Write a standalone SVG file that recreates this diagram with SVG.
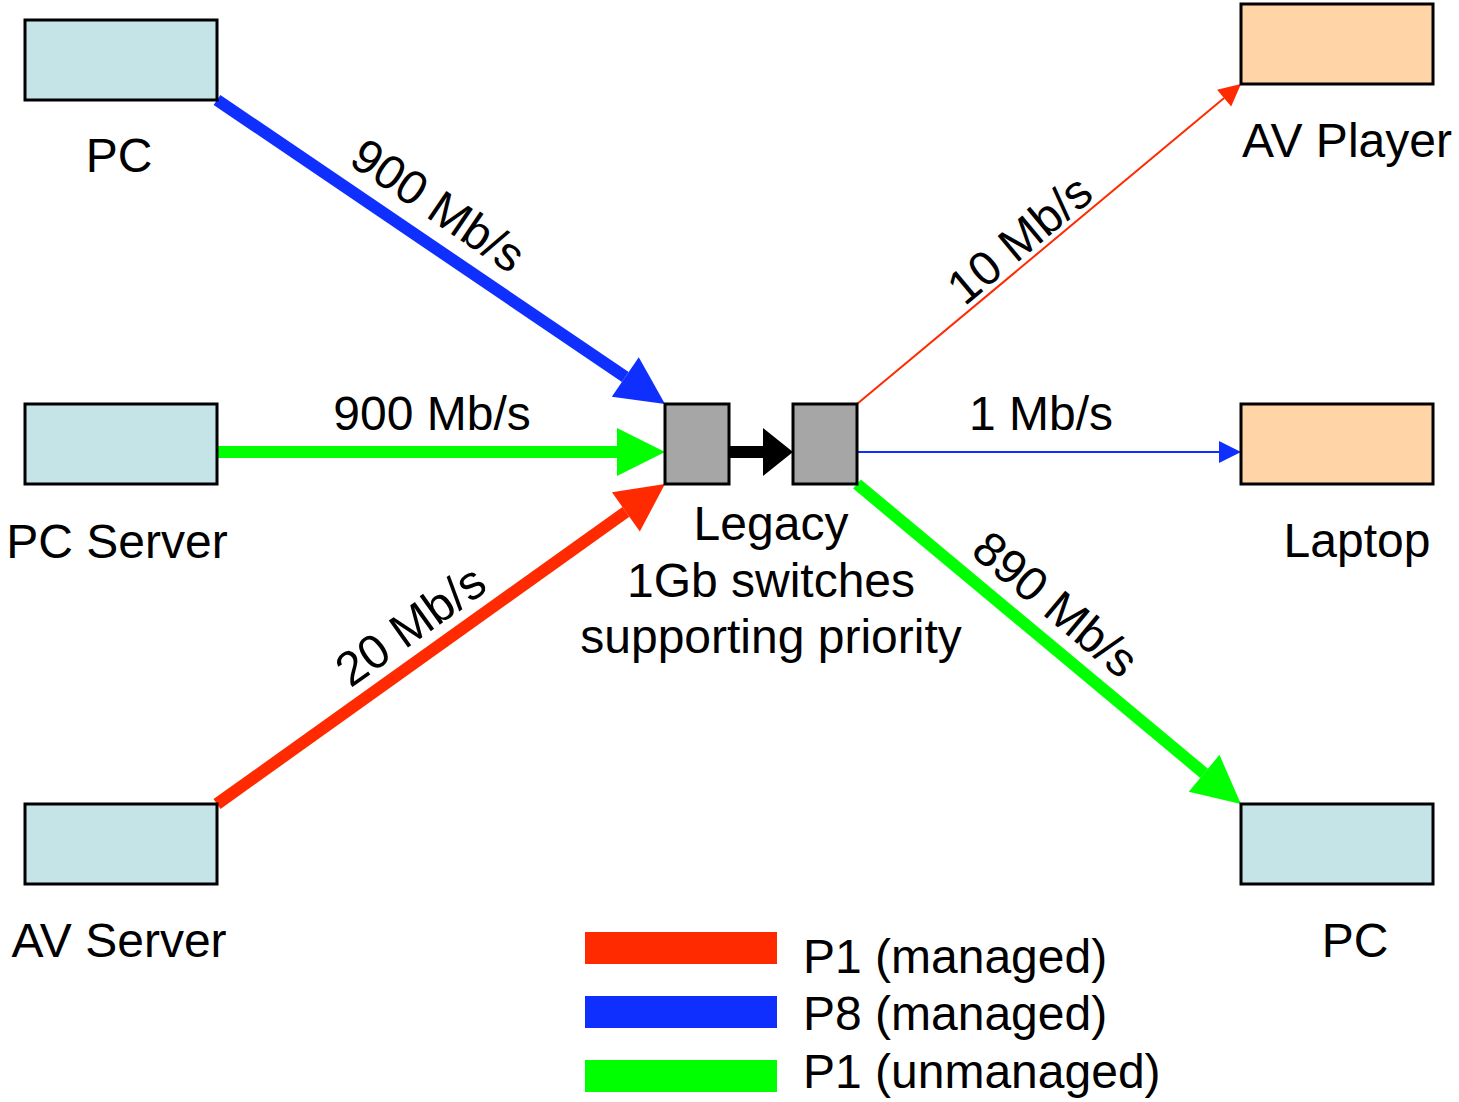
<svg xmlns="http://www.w3.org/2000/svg" width="1459" height="1102" viewBox="0 0 1459 1102">
<style>
text{font-family:"Liberation Sans",Arial,sans-serif;font-size:48px;fill:#000}
.c{text-anchor:middle}
.pc{fill:#C5E4E8;stroke:#000;stroke-width:3}
.av{fill:#FFD5A8;stroke:#000;stroke-width:3}
.sw{fill:#A6A6A6;stroke:#000;stroke-width:3}
.thick{stroke-width:12;fill:none}
.thin{stroke-width:2;fill:none}
</style>
<defs>
<marker id="bigR" markerUnits="userSpaceOnUse" markerWidth="50" markerHeight="50" refX="0" refY="24" orient="auto" viewBox="0 0 50 50" overflow="visible"><path d="M0,0 L48,24 L0,48 z" fill="#FF2A00"/></marker>
<marker id="bigB" markerUnits="userSpaceOnUse" markerWidth="50" markerHeight="50" refX="0" refY="24" orient="auto" viewBox="0 0 50 50" overflow="visible"><path d="M0,0 L48,24 L0,48 z" fill="#0F2FFF"/></marker>
<marker id="bigG" markerUnits="userSpaceOnUse" markerWidth="50" markerHeight="50" refX="0" refY="24" orient="auto" viewBox="0 0 50 50" overflow="visible"><path d="M0,0 L48,24 L0,48 z" fill="#00FF00"/></marker>
<marker id="bigK" markerUnits="userSpaceOnUse" markerWidth="50" markerHeight="50" refX="0" refY="24" orient="auto" viewBox="0 0 50 50" overflow="visible"><path d="M0,0 L30,24 L0,48 z" fill="#000"/></marker>
<marker id="smR" markerUnits="userSpaceOnUse" markerWidth="24" markerHeight="24" refX="0" refY="11" orient="auto" viewBox="0 0 24 24" overflow="visible"><path d="M0,0 L22,11 L0,22 z" fill="#FF2A00"/></marker>
<marker id="smB" markerUnits="userSpaceOnUse" markerWidth="24" markerHeight="24" refX="0" refY="11" orient="auto" viewBox="0 0 24 24" overflow="visible"><path d="M0,0 L22,11 L0,22 z" fill="#0F2FFF"/></marker>
</defs>

<g id="connectors">
<line x1="217" y1="100" x2="625.3" y2="377" class="thick" stroke="#0F2FFF" marker-end="url(#bigB)"/>
<line x1="217" y1="452" x2="617" y2="452" class="thick" stroke="#00FF00" marker-end="url(#bigG)"/>
<line x1="217" y1="804" x2="625.9" y2="511.9" class="thick" stroke="#FF2A00" marker-end="url(#bigR)"/>
<line x1="729" y1="452" x2="763" y2="452" class="thick" stroke="#000" marker-end="url(#bigK)"/>
<line x1="857" y1="404" x2="1224.1" y2="98.1" class="thin" stroke="#FF2A00" marker-end="url(#smR)"/>
<line x1="857" y1="452" x2="1219" y2="452" class="thin" stroke="#0F2FFF" marker-end="url(#smB)"/>
<line x1="857" y1="484" x2="1204.1" y2="773.3" class="thick" stroke="#00FF00" marker-end="url(#bigG)"/>
<text class="c" transform="translate(429,219) rotate(34.16)">900 Mb/s</text>
<text class="c" x="432" y="430">900 Mb/s</text>
<text class="c" transform="translate(420,639) rotate(-35.5)">20 Mb/s</text>
<text class="c" transform="translate(1030,252) rotate(-39.8)">10 Mb/s</text>
<text class="c" x="1041" y="430">1 Mb/s</text>
<text class="c" transform="translate(1045,617) rotate(39.8)">890 Mb/s</text>
</g>

<g id="pc1"><rect class="pc" x="25" y="20" width="192" height="80"/><text class="c" x="119" y="172">PC</text></g>
<g id="pcserver"><rect class="pc" x="25" y="404" width="192" height="80"/><text class="c" x="117" y="558">PC Server</text></g>
<g id="avserver"><rect class="pc" x="25" y="804" width="192" height="80"/><text class="c" x="119" y="957">AV Server</text></g>
<g id="avplayer"><rect class="av" x="1241" y="4" width="192" height="80"/><text class="c" x="1347" y="157">AV Player</text></g>
<g id="laptop"><rect class="av" x="1241" y="404" width="192" height="80"/><text class="c" x="1357" y="557">Laptop</text></g>
<g id="pc2"><rect class="pc" x="1241" y="804" width="192" height="80"/><text class="c" x="1355" y="957">PC</text></g>
<g id="switches">
<rect class="sw" x="665" y="404" width="64" height="80"/>
<rect class="sw" x="793" y="404" width="64" height="80"/>
<text class="c" x="771" y="540">Legacy</text>
<text class="c" x="771" y="597">1Gb switches</text>
<text class="c" x="771" y="653">supporting priority</text>
</g>
<g id="legend">
<rect x="585" y="932" width="192" height="32" fill="#FF2A00"/>
<rect x="585" y="996" width="192" height="32" fill="#0F2FFF"/>
<rect x="585" y="1060" width="192" height="32" fill="#00FF00"/>
<text x="803" y="973">P1 (managed)</text>
<text x="803" y="1030">P8 (managed)</text>
<text x="803" y="1088">P1 (unmanaged)</text>
</g>
</svg>
